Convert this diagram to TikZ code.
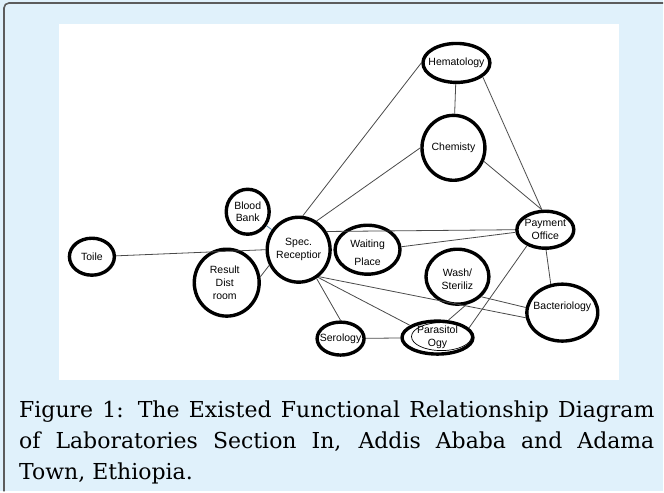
\documentclass[tikz,border=0pt]{standalone}
\usepackage{fontspec}
\setmainfont{DejaVu Serif}
\newfontfamily\labfont{Liberation Sans}
\usetikzlibrary{shapes}

\definecolor{capbg}{HTML}{E0F1FB}
\definecolor{framegray}{HTML}{5C5C5C}
\definecolor{linkgray}{HTML}{4A4A4A}
\definecolor{bluelink}{HTML}{5A86A8}

\begin{document}
\begin{tikzpicture}[x=1pt,y=-1pt,
    lab/.style={ellipse,draw,line width=3.4pt,inner sep=0pt},
    labtext/.style={shape=rectangle,draw=none,inner sep=0pt,align=center,
      font=\labfont\fontsize{10.5}{13}\selectfont},
    link/.style={draw=linkgray,line width=0.8pt}]
    \fill[capbg] (0,0) rectangle (664,492);
    \draw[framegray,line width=1.6pt,rounded corners=5pt] (4,492) -- (4,3) -- (664,3);
    \fill[white] (59,24) rectangle (620,380);
    \useasboundingbox (0,0) rectangle (664,492);

    \node[lab,minimum width=67pt,minimum height=39pt,label={[labtext]center:Hematology}] (hem) at (457,63) {};
    \node[lab,minimum width=63pt,minimum height=65pt,label={[labtext]center:Chemisty}] (chem) at (454,148) {};
    \node[lab,minimum width=43pt,minimum height=45pt,label={[labtext,font=\labfont\fontsize{10.5}{12.5}\selectfont]center:{Blood\\Bank}}] (blood) at (248,212) {};
    \node[lab,minimum width=63pt,minimum height=65pt,label={[labtext]center:{Spec.\\Receptior}}] (spec) at (299,250) {};
    \node[lab,minimum width=65pt,minimum height=49pt,label={[labtext,yshift=-3pt]center:{Waiting\\[5pt]Place}}] (wait) at (368,250) {};
    \node[lab,minimum width=45pt,minimum height=37pt,label={[labtext]center:Toile}] (toilet) at (92,257) {};
    \node[lab,minimum width=65pt,minimum height=67pt,label={[labtext,xshift=-2pt]center:{Result\\Dist\\room}}] (result) at (227,283) {};
    \node[lab,minimum width=57pt,minimum height=37pt,label={[labtext]center:{Payment\\Office}}] (pay) at (546,230) {};
    \node[lab,minimum width=63pt,minimum height=55pt,label={[labtext,yshift=-3pt]center:{Wash/\\Steriliz}}] (wash) at (458,277) {};
    \node[lab,minimum width=71pt,minimum height=57pt,label={[labtext,yshift=6pt]center:Bacteriology}] (bact) at (563,313) {};
    \node[lab,minimum width=47pt,minimum height=33pt,label={[labtext]center:Serology}] (sero) at (341,339) {};
    \node[lab,minimum width=71pt,minimum height=33pt,label={[labtext]center:{Parasitol\\Ogy}}] (para) at (438,338) {};
    \draw[line width=0.7pt] (para.center) ++(4pt,1pt) ellipse [x radius=30pt, y radius=14pt];

    \draw[link] (hem.180) -- (spec.83);
    \draw[link] (hem) -- (chem);
    \draw[link] (hem.-28) -- (pay.100);
    \draw[link] (chem.180) -- (spec.58);
    \draw[link] (chem.-24) -- (pay.100);
    \draw[link] (spec.33) -- (pay.180);
    \draw[link] (wait.5) -- (pay.185);
    \draw[link] (toilet.2) -- (spec.180);
    \draw[link,draw=bluelink] (blood) -- (spec);
    \draw[link] (result.10) -- (spec.208);
    \draw[link] (spec.-58) -- (sero.90);
    \draw[link] (spec.-55) -- (para.156);
    \draw[link] (spec.-53) -- (bact.188);
    \draw[link] (wash.-40) -- (bact.172);
    \draw[link] (wash.-73) -- (para.58);
    \draw[link] (pay.221) -- (para.17);
    \draw[link] (pay.272) -- (bact.112);
    \draw[link] (sero) -- (para);

    \node[anchor=north west,inner sep=0pt,text width=636pt,align=justify,
      font=\fontsize{22}{31}\selectfont] (caption) at (19,401.5)
      {Figure 1: The Existed Functional Relationship Diagram\linebreak
       of Laboratories Section In, Addis Ababa and Adama\linebreak
       Town, Ethiopia.};
\end{tikzpicture}
\end{document}
